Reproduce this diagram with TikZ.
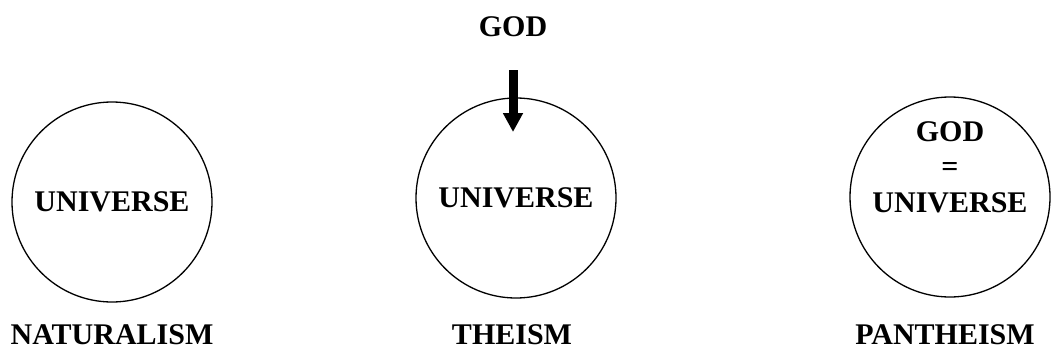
\documentclass[tikz,border=0pt]{standalone}
\usepackage{fontspec}
\setmainfont{Liberation Serif}
\usetikzlibrary{arrows.meta}
\tikzset{
  world/.style={draw,circle,line width=1.3pt,minimum size=200pt,inner sep=0pt},
  word/.style={font=\fontsize{30}{35.5}\selectfont\bfseries,align=center,inner sep=0pt},
  godarrow/.style={line width=9pt,-{Triangle[width=19pt,length=19pt]}}
}
\begin{document}
\begin{tikzpicture}[x=1pt,y=-1pt]
  \useasboundingbox (0,0) rectangle (1054,353);

  \node[world] (natu) at (112,202) {};
  \node[world] (thei) at (516,198) {};
  \node[world] (pant) at (950,197) {};

  \node[word] (natuin) at (natu.center) {UNIVERSE};
  \node[word] (theiin) at (thei.center) {UNIVERSE};
  \node[word] (pantin) at (950,167) {GOD\\=\\UNIVERSE};

  \node[word] (god) at (513,27) {GOD};
  \coordinate (arrowtop) at (513,70);
  \coordinate (arrowtip) at (513,132);
  \draw[godarrow] (arrowtop) -- (arrowtip);

  \node[word] (natuname) at (112,335) {NATURALISM};
  \node[word] (theiname) at (512,335) {THEISM};
  \node[word] (pantname) at (945,335) {PANTHEISM};
\end{tikzpicture}
\end{document}
